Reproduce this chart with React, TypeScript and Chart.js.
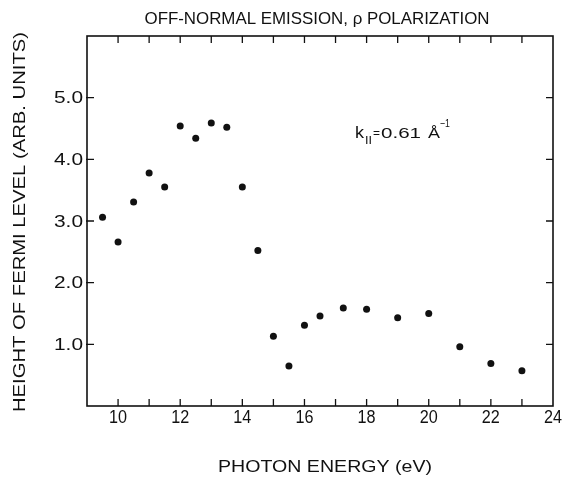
import React, { useEffect, useRef } from "react";
import { Chart, registerables } from "chart.js";

Chart.register(...registerables);

const photonEnergy = [9.5, 10, 10.5, 11, 11.5, 12, 12.5, 13, 13.5, 14, 14.5, 15, 15.5, 16, 16.5, 17.25, 18, 19, 20, 21, 22, 23];
const fermiHeight = [3.06, 2.66, 3.31, 3.78, 3.55, 4.54, 4.34, 4.59, 4.52, 3.55, 2.52, 1.13, 0.65, 1.31, 1.46, 1.59, 1.57, 1.43, 1.5, 0.96, 0.69, 0.57];
const xLabeledTicks = [10, 12, 14, 16, 18, 20, 22, 24];
const yLabeledTicks = [1, 2, 3, 4, 5];
const chartTitle = "OFF-NORMAL EMISSION, ρ POLARIZATION";
const xAxisTitle = "PHOTON ENERGY (eV)";
const yAxisTitle = "HEIGHT OF FERMI LEVEL (ARB. UNITS)";

const FONT = "'Liberation Sans', Arial, sans-serif";
const INK = "#111";

function drawFitted(
  ctx: CanvasRenderingContext2D,
  text: string,
  x: number,
  y: number,
  size: number,
  width: number,
  rot = 0,
  align: CanvasTextAlign = "center",
  baseline: CanvasTextBaseline = "middle"
) {
  ctx.save();
  ctx.translate(x, y);
  ctx.rotate(rot);
  ctx.font = `${size}px ${FONT}`;
  const w = ctx.measureText(text).width;
  ctx.scale(width / w, 1);
  ctx.textAlign = align;
  ctx.textBaseline = baseline;
  ctx.fillStyle = INK;
  ctx.fillText(text, 0, 0);
  ctx.restore();
}

const decorPlugin = {
  id: "decor",
  afterDraw(chart: any) {
    const ctx: CanvasRenderingContext2D = chart.ctx;
    const { left, right, top, bottom } = chart.chartArea;
    const xs = chart.scales.x;
    const ys = chart.scales.y;
    ctx.save();
    ctx.strokeStyle = INK;
    ctx.lineWidth = 1.6;
    ctx.strokeRect(left, top, right - left, bottom - top);
    ctx.lineWidth = 1.3;
    const tl = 7;
    ctx.beginPath();
    for (let v = Math.ceil(xs.min); v < xs.max; v++) {
      if (v <= xs.min) continue;
      const px = xs.getPixelForValue(v);
      ctx.moveTo(px, bottom);
      ctx.lineTo(px, bottom - tl);
      ctx.moveTo(px, top);
      ctx.lineTo(px, top + tl);
    }
    for (const v of yLabeledTicks) {
      const py = ys.getPixelForValue(v);
      ctx.moveTo(left - 1, py);
      ctx.lineTo(left + tl, py);
      ctx.moveTo(right, py);
      ctx.lineTo(right - tl, py);
    }
    ctx.stroke();

    // tick labels
    for (const v of xLabeledTicks) {
      const px = xs.getPixelForValue(v);
      drawFitted(ctx, String(v), px, bottom + 12, 18, 18);
    }
    for (const v of yLabeledTicks) {
      const py = ys.getPixelForValue(v);
      drawFitted(ctx, v.toFixed(1), left - 4, py + 1, 17, 29, 0, "right");
    }

    drawFitted(ctx, chartTitle, (left + right) / 2 - 3, 19, 17, 345);
    drawFitted(ctx, xAxisTitle, 325, 468, 16, 214);
    drawFitted(ctx, yAxisTitle, 21, 222, 16, 380, -Math.PI / 2);

    // annotation k|| = 0.61 Å^-1
    const base = 138;
    drawFitted(ctx, "k", 355, base, 16, 9, 0, "left", "alphabetic");
    drawFitted(ctx, "II", 365, base + 6, 11, 7, 0, "left", "alphabetic");
    drawFitted(ctx, "=", 373, base - 1, 13, 7, 0, "left", "alphabetic");
    drawFitted(ctx, "0.61", 381, base, 15, 40, 0, "left", "alphabetic");
    drawFitted(ctx, "Å", 428, base, 15, 12, 0, "left", "alphabetic");
    drawFitted(ctx, "−1", 440, base - 11, 11, 10, 0, "left", "alphabetic");
    ctx.restore();
  },
};

export default function App() {
  const ref = useRef<HTMLCanvasElement | null>(null);
  useEffect(() => {
    if (!ref.current) return;
    const chart = new Chart(ref.current, {
      type: "scatter",
      data: {
        datasets: [
          {
            data: photonEnergy.map((e, i) => ({ x: e, y: fermiHeight[i] })),
            backgroundColor: INK,
            borderColor: INK,
            pointRadius: 3.5,
            pointHoverRadius: 3.5,
            borderWidth: 0,
          },
        ],
      },
      options: {
        animation: false,
        responsive: false,
        maintainAspectRatio: false,
        events: [],
        layout: { padding: { left: 0, right: 10, top: 36, bottom: 0 } },
        plugins: { legend: { display: false }, tooltip: { enabled: false }, title: { display: false } },
        scales: {
          x: {
            type: "linear",
            min: 9,
            max: 24,
            grid: { display: false, drawTicks: false },
            border: { display: false },
            ticks: { display: false },
            afterFit: (s: any) => {
              s.height = 79;
              s.paddingLeft = 0;
              s.paddingRight = 0;
            },
          },
          y: {
            type: "linear",
            min: 0,
            max: 6,
            grid: { display: false, drawTicks: false },
            border: { display: false },
            ticks: { display: false },
            afterFit: (s: any) => {
              s.width = 87;
              s.paddingTop = 0;
              s.paddingBottom = 0;
            },
          },
        },
      },
      plugins: [decorPlugin],
    });
    return () => chart.destroy();
  }, []);
  return (
    <div style={{ position: "fixed", left: 0, top: 0, width: 563, height: 485, background: "#fff" }}>
      <canvas ref={ref} width={563} height={485} style={{ width: 563, height: 485 }} />
    </div>
  );
}
